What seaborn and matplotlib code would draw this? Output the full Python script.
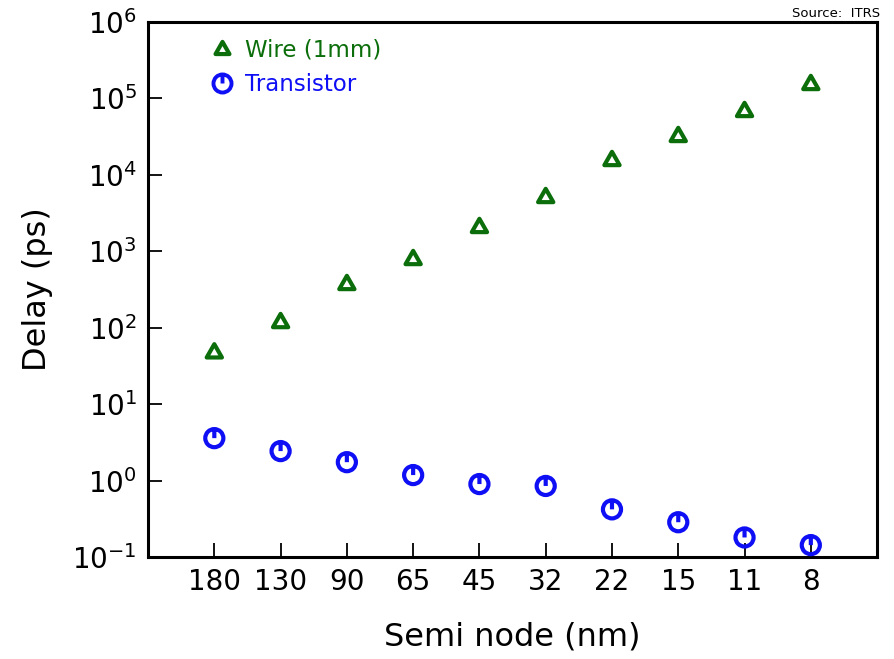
import numpy as np
import pandas as pd
import matplotlib
matplotlib.use("Agg")
import matplotlib.pyplot as plt
from matplotlib.path import Path
from matplotlib.lines import Line2D
import seaborn as sns

nodes = ["180", "130", "90", "65", "45", "32", "22", "15", "11", "8"]
wire_delay = [49, 122, 384, 815, 2140, 5280, 16100, 33200, 70500, 159000]
transistor_delay = [3.59, 2.43, 1.74, 1.18, 0.90, 0.85, 0.42, 0.285, 0.18, 0.143]
series_names = ["Wire (1mm)", "Transistor"]
series_colors = ["#0b6e0b", "#0f0ff5"]

sns.set_theme(style="white", rc={"xtick.bottom": True, "ytick.left": True})
plt.rcParams['font.family'] = ['DejaVu Sans']
plt.rcParams['text.color'] = 'black'
plt.rcParams['axes.labelcolor'] = 'black'

# custom markers
tri = Path([(-1, -0.8), (1, -0.8), (0, 0.95), (-1, -0.8), (-1, -0.8)],
           [Path.MOVETO, Path.LINETO, Path.LINETO, Path.LINETO, Path.CLOSEPOLY])
circ = Path.unit_circle()
stem = Path([(0, 0), (0, 1)], [Path.MOVETO, Path.LINETO])
circ_marker = Path.make_compound_path(circ, stem)

fig = plt.figure(figsize=(8.95, 6.59), dpi=100)
ax = fig.add_axes([0.1654, 0.1548, 0.8146, 0.8118])

df = pd.DataFrame({
    "node": nodes * 2,
    "delay": wire_delay + transistor_delay,
    "series": [series_names[0]] * len(nodes) + [series_names[1]] * len(nodes),
})
df["xpos"] = list(range(len(nodes))) * 2

markers = [tri, circ_marker]
sizes = [120, 170]
for name, col, mk, sz in zip(series_names, series_colors, markers, sizes):
    sub = df[df["series"] == name]
    sns.scatterplot(data=sub, x="xpos", y="delay", marker=mk, s=sz,
                    facecolor="none", edgecolor=col, linewidth=3.0,
                    ax=ax, legend=False, zorder=3)

ax.set_yscale("log")
ax.set_ylim(0.1, 1e6)
ax.set_xlim(-1, 10)
ax.set_xticks(range(len(nodes)))
ax.set_xticklabels(nodes)
ax.set_yticks([10.0 ** k for k in range(-1, 7)])
ax.set_yticklabels([f"$10^{{{k}}}$" for k in range(-1, 7)])
ax.yaxis.set_minor_locator(matplotlib.ticker.NullLocator())

ax.tick_params(axis="both", which="major", direction="in", length=10, width=1.3,
               labelsize=20, colors="black", labelcolor="black",
               bottom=True, left=True, top=False, right=False)
ax.tick_params(axis="x", pad=8)
ax.tick_params(axis="y", pad=8)
for sp in ax.spines.values():
    sp.set_linewidth(2.2)
    sp.set_color("black")
    sp.set_visible(True)

ax.set_xlabel("Semi node (nm)", fontsize=23, labelpad=18, color="black")
ax.set_ylabel("Delay (ps)", fontsize=23, labelpad=14, color="black")

# legend
handles = [Line2D([], [], linestyle="none", marker=tri, markersize=10,
                  markerfacecolor="none", markeredgecolor=series_colors[0], markeredgewidth=3.0),
           Line2D([], [], linestyle="none", marker=circ_marker, markersize=13,
                  markerfacecolor="none", markeredgecolor=series_colors[1], markeredgewidth=2.8)]
leg = ax.legend(handles, series_names, loc="upper left", bbox_to_anchor=(0.058, 1.008),
                frameon=False, fontsize=16.5, handletextpad=0.5, labelspacing=0.5,
                handlelength=1.0)
for t, c in zip(leg.get_texts(), series_colors):
    t.set_color(c)

fig.text(0.983, 0.99, "Source:  ITRS", ha="right", va="top", fontsize=9.5, color="black")

fig.savefig("out.png", dpi=100)
